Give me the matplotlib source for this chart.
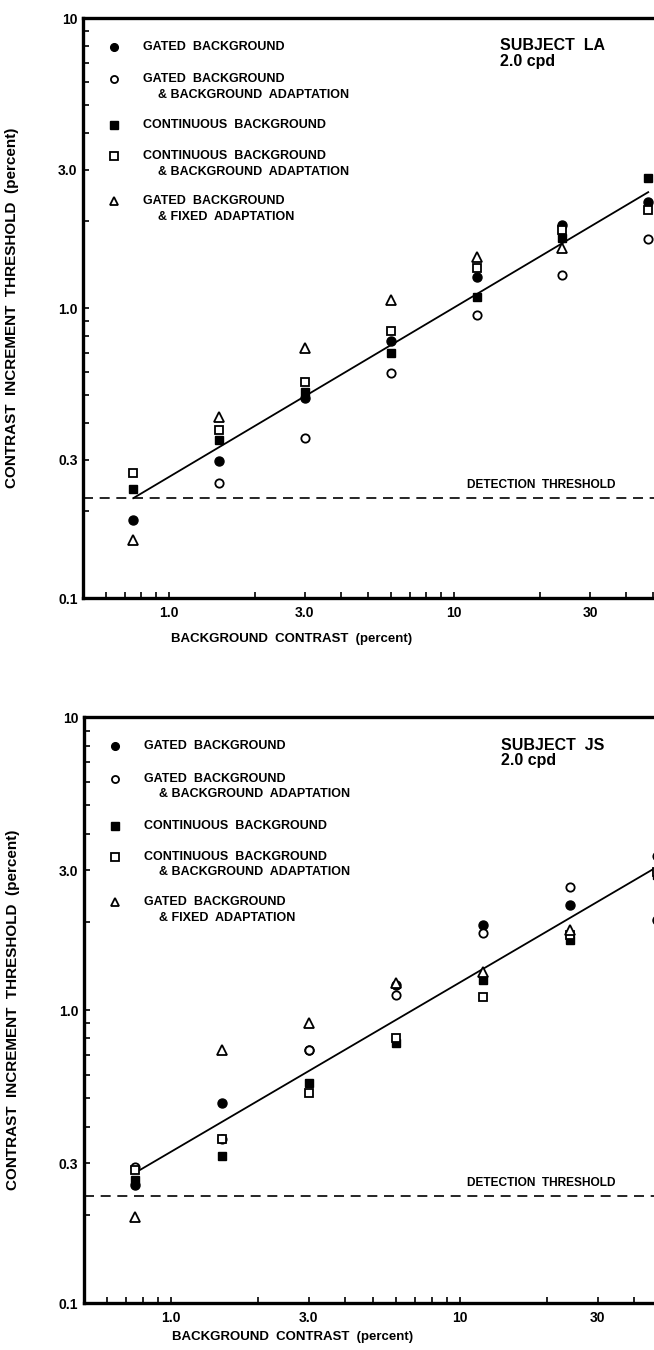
import numpy as np
import matplotlib
matplotlib.use('Agg')
import matplotlib.pyplot as plt
from matplotlib.ticker import FixedLocator, FixedFormatter, LogLocator, NullFormatter
import matplotlib.transforms as mtransforms

plt.rcParams['font.family'] = ['Liberation Sans', 'DejaVu Sans']
plt.rcParams['font.weight'] = 'bold'

# Данi: фон (percent) та пороги для кожної умови
bg_contrast = [0.75, 1.5, 3.0, 6.0, 12.0, 24.0, 48.0]
nan = np.nan

la_gated = [0.186, 0.297, 0.49, 0.77, 1.28, 1.93, 2.33]
la_gated_bg_adapt = [nan, 0.249, 0.356, 0.597, 0.946, 1.30, 1.73]
la_continuous = [0.238, 0.35, 0.513, 0.70, 1.09, 1.74, 2.8]
la_continuous_bg_adapt = [0.27, 0.38, 0.556, 0.834, 1.374, 1.86, 2.18]
la_gated_fixed = [0.158, 0.42, 0.728, 1.066, 1.5, 1.61, nan]

js_gated = [0.253, 0.482, 0.73, 1.22, 1.95, 2.28, 2.03]
js_gated_bg_adapt = [0.291, 0.363, 0.73, 1.125, 1.83, 2.63, 3.35]
js_continuous = [0.263, 0.318, 0.564, 0.77, 1.27, 1.73, 2.9]
js_continuous_bg_adapt = [0.285, 0.363, 0.521, 0.80, 1.11, 1.80, 2.95]
js_gated_fixed = [0.197, 0.73, 0.903, 1.24, 1.35, 1.88, nan]

fit_x = [0.75, 48.0]
la_fit = [0.221, 2.51]
js_fit = [0.278, 3.08]
la_detection = 0.221
js_detection = 0.232

y_ticks = [0.1, 0.3, 1.0, 3.0, 10.0]
y_tick_labels = ['0.1', '0.3', '1.0', '3.0', '10']
x_ticks = [1.0, 3.0, 10.0, 30.0]
x_tick_labels = ['1.0', '3.0', '10', '30']

legend_lines = [
    ('GATED  BACKGROUND', None),
    ('GATED  BACKGROUND', '& BACKGROUND  ADAPTATION'),
    ('CONTINUOUS  BACKGROUND', None),
    ('CONTINUOUS  BACKGROUND', '& BACKGROUND  ADAPTATION'),
    ('GATED  BACKGROUND', '& FIXED  ADAPTATION'),
]

styles = [
    dict(marker='o', mfc='black', mec='black', ms=6.5),
    dict(marker='o', mfc='white', mec='black', ms=6.0, mew=1.3),
    dict(marker='s', mfc='black', mec='black', ms=6.0),
    dict(marker='s', mfc='white', mec='black', ms=6.0, mew=1.3),
    dict(marker='^', mfc='white', mec='black', ms=7.5, mew=1.3),
]


def draw_panel(ax, series, fit_y, detection, subject, xmax, leg_y, xlab_y):
    for vals, st in zip(series, styles):
        ax.plot(bg_contrast, vals, ls='none', zorder=3, clip_on=False, **st)
    ax.plot(fit_x, fit_y, color='black', lw=1.3, zorder=2)
    ax.axhline(detection, color='black', lw=1.2, dashes=(6, 4), zorder=1)
    trans = mtransforms.blended_transform_factory(ax.transAxes, ax.transData)
    ax.annotate('DETECTION  THRESHOLD', xy=(0.672, detection), xycoords=trans,
                xytext=(0, 5), textcoords='offset points', fontsize=8.6,
                fontweight='bold', va='bottom', ha='left')

    ax.set_xscale('log')
    ax.set_yscale('log')
    ax.set_xlim(0.5, xmax)
    ax.set_ylim(0.1, 10)

    ax.xaxis.set_major_locator(FixedLocator(x_ticks))
    ax.xaxis.set_major_formatter(FixedFormatter(x_tick_labels))
    ax.yaxis.set_major_locator(FixedLocator(y_ticks))
    ax.yaxis.set_major_formatter(FixedFormatter(y_tick_labels))
    for axis in (ax.xaxis, ax.yaxis):
        axis.set_minor_locator(LogLocator(base=10, subs=(2, 3, 4, 5, 6, 7, 8, 9)))
        axis.set_minor_formatter(NullFormatter())
    ax.tick_params(which='both', direction='in', length=4, width=1.2,
                   top=False, right=False)
    ax.tick_params(axis='x', which='major', pad=6, labelsize=10)
    ax.tick_params(axis='y', which='major', pad=4, labelsize=10)
    for lbl in ax.get_xticklabels() + ax.get_yticklabels():
        lbl.set_fontweight('bold')

    for side in ('left', 'bottom', 'top'):
        ax.spines[side].set_linewidth(2.4)
    ax.spines['right'].set_visible(False)

    ax.set_xlabel('BACKGROUND  CONTRAST  (percent)', fontsize=9.5,
                  fontweight='bold')
    ax.xaxis.set_label_coords(0.366, xlab_y)
    ax.set_ylabel('CONTRAST  INCREMENT  THRESHOLD  (percent)', fontsize=11,
                  fontweight='bold')
    ax.yaxis.set_label_coords(-0.112, 0.5)

    # Легенда, намальована вручну
    mx, tx, ix = 0.055, 0.105, 0.132
    k = 0
    for (line1, line2), st in zip(legend_lines, styles):
        y = leg_y[k]
        ax.plot([mx], [y], transform=ax.transAxes, ls='none', clip_on=False,
                **{**st, 'ms': st['ms'] * 0.85})
        ax.text(tx, y, line1, transform=ax.transAxes, fontsize=9,
                fontweight='bold', va='center')
        k += 1
        if line2:
            ax.text(ix, leg_y[k], line2, transform=ax.transAxes, fontsize=9,
                    fontweight='bold', va='center')
            k += 1

    ax.text(0.731, 0.952, 'SUBJECT  ' + subject, transform=ax.transAxes,
            fontsize=11.5, fontweight='bold', va='center')
    ax.text(0.731, 0.926, '2.0 cpd', transform=ax.transAxes,
            fontsize=11.5, fontweight='bold', va='center')


leg_y = [0.950, 0.895, 0.868, 0.815, 0.762, 0.735, 0.684, 0.657]

fig = plt.figure(figsize=(6.54, 13.5), dpi=100)
ax_top = fig.add_axes([0.127, 0.557, 0.873, 0.4296])
ax_bot = fig.add_axes([0.1284, 0.0348, 0.8716, 0.434])

draw_panel(ax_top,
           [la_gated, la_gated_bg_adapt, la_continuous, la_continuous_bg_adapt, la_gated_fixed],
           la_fit, la_detection, 'LA', 50.3, leg_y, -0.06)
draw_panel(ax_bot,
           [js_gated, js_gated_bg_adapt, js_continuous, js_continuous_bg_adapt, js_gated_fixed],
           js_fit, js_detection, 'JS', 46.9, leg_y, -0.048)

fig.savefig('out.png', dpi=100)
